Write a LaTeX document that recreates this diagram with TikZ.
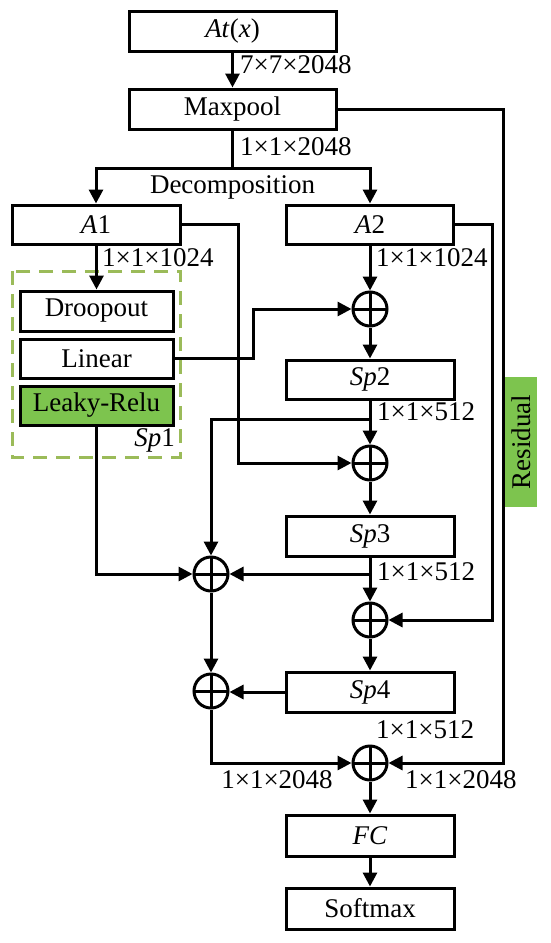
\documentclass[tikz,border=0pt]{standalone}
\usepackage{fontspec}
\setmainfont{Liberation Serif}
\usetikzlibrary{arrows.meta,calc}
\definecolor{lgreen}{HTML}{9BBB59}
\definecolor{fgreen}{HTML}{7DC44E}
\begin{document}
\begin{tikzpicture}[x=1pt,y=-1pt,
  every node/.style={font=\fontsize{27}{31}\selectfont},
  box/.style={draw,line width=3pt,inner sep=0pt,minimum height=40pt},
  plus/.style={circle,draw,line width=3pt,minimum size=34pt,inner sep=0pt,
    path picture={\draw[line width=3pt] (path picture bounding box.north) -- (path picture bounding box.south)
      (path picture bounding box.west) -- (path picture bounding box.east);}},
  conn/.style={line width=3pt},
  arr/.style={conn,-{Triangle[length=14pt,width=14pt]}},
  lab/.style={anchor=west,inner sep=0pt},
]
\useasboundingbox (0,0) rectangle (550,943);

% dashed group and residual band
\draw[lgreen,line width=3pt,dash pattern=on 14pt off 9pt] (12,271) rectangle (180,457);
\node[fill=fgreen,minimum width=32pt,minimum height=130pt,inner sep=0pt] (resbox) at (521,442) {};
\node[rotate=90,inner sep=0pt] (restext) at (resbox.center) {Residual};

% boxes
\node[box,minimum width=207pt] (atx) at (232.5,31) {\textit{At}(\textit{x})};
\node[box,minimum width=207pt] (maxpool) at (232.5,109) {Maxpool};
\node[box,minimum width=168pt,minimum height=39pt] (a1) at (96,224.5) {\textit{A}1};
\node[box,minimum width=167pt,minimum height=39pt] (a2) at (370,224.5) {\textit{A}2};
\node[box,minimum width=153pt] (drop) at (96.5,311) {Droopout};
\node[box,minimum width=153pt,minimum height=39pt] (lin) at (96.5,358.5) {Linear};
\node[box,minimum width=153pt,minimum height=39pt,fill=fgreen] (leaky) at (96.5,405.5) {Leaky-Relu};
\node[box,minimum width=168pt,minimum height=39pt] (sp2) at (370,379.5) {\textit{Sp}2};
\node[box,minimum width=168pt] (sp3) at (370,536) {\textit{Sp}3};
\node[box,minimum width=168pt] (sp4) at (370,692) {\textit{Sp}4};
\node[box,minimum width=168pt,minimum height=41pt] (fc) at (370,835.5) {\textit{FC}};
\node[box,minimum width=168pt,minimum height=41pt] (soft) at (370,908.5) {Softmax};

% sum nodes
\node[plus] (p1) at (370,309) {};
\node[plus] (p2) at (370,463) {};
\node[plus] (p3) at (370,620) {};
\node[plus] (p4) at (211,574) {};
\node[plus] (p5) at (211,691) {};
\node[plus] (p6) at (370,763) {};

% helper coordinates
\coordinate (dec) at (232.5,168);
\coordinate (resx) at (503,0);
\coordinate (a1x) at (238,0);
\coordinate (a2x) at (492,0);
\coordinate (linx) at (253,0);
\coordinate (b2) at (370,419);

% connectors
\draw[arr] (atx) -- (maxpool);
\draw[conn] (maxpool) -- (dec);
\draw[arr] (dec) -| (a1.north);
\draw[arr] (dec) -| (a2.north);
\draw[arr] (maxpool.east) -| (resx |- p6) -- (p6.east);
\draw[arr] (a1.east) -| (a1x |- p2) -- (p2.west);
\draw[arr] (a1.south -| drop.north) -- (drop.north);
\draw[arr] (a2) -- (p1);
\draw[arr] (a2.east) -| (a2x |- p3) -- (p3.east);
\draw[arr] (lin.east) -| (linx |- p1) -- (p1.west);
\draw[arr] (p1) -- (sp2);
\draw[arr] (sp2) -- (p2);
\draw[arr] (b2) -| (p4.north);
\draw[arr] (p2) -- (sp3);
\draw[arr] (sp3) -- (p3);
\draw[arr] (sp3.south |- p4) -- (p4.east);
\draw[arr] (leaky.south) |- (p4.west);
\draw[arr] (p4) -- (p5);
\draw[arr] (p3) -- (sp4);
\draw[arr] (sp4.west) -- (p5.east |- sp4.west);
\draw[arr] (p5.south) |- (p6.west);
\draw[arr] (p6) -- (fc);
\draw[arr] (fc) -- (soft);

% labels
\node[lab] (l1) at (240,65) {7×7×2048};
\node[lab] (l2) at (240,147) {1×1×2048};
\node[inner sep=0pt] (l3) at (232.5,187) {Decomposition};
\node[lab] (l4) at (102,258) {1×1×1024};
\node[lab] (l5) at (376,258) {1×1×1024};
\node[lab] (l6) at (377,412) {1×1×512};
\node[lab] (l7) at (377,572) {1×1×512};
\node[lab] (l8) at (376,730) {1×1×512};
\node[inner sep=0pt] (l9) at (277,780) {1×1×2048};
\node[lab] (l10) at (405,780) {1×1×2048};
\node[anchor=east,inner sep=0pt] (sp1) at (175,440) {\textit{Sp}1};
\end{tikzpicture}
\end{document}
